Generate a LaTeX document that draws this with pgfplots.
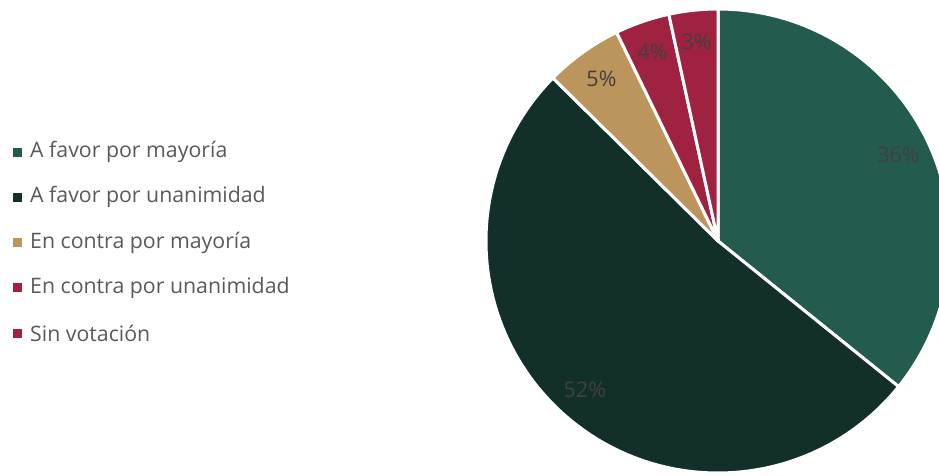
\documentclass[border=0pt]{standalone}
\usepackage{pgfplots}
\usepackage{pgfplotstable}
\pgfplotsset{compat=1.18}
\usepackage{fontspec}
\setmainfont{Open Sans}
\definecolor{cA}{HTML}{235B4E}
\definecolor{cB}{HTML}{122F2A}
\definecolor{cC}{HTML}{BC955C}
\definecolor{cD}{HTML}{9F2241}
\definecolor{cE}{HTML}{9F2241}
\definecolor{lbl}{HTML}{404040}
\definecolor{leg}{HTML}{595959}
\pgfplotstableread[col sep=comma]{
label,value,color
A favor por mayoría,35.8,cA
A favor por unanimidad,51.6,cB
En contra por mayoría,5.4,cC
En contra por unanimidad,3.8,cD
Sin votación,3.4,cE
}\pietable
\begin{document}
\begin{tikzpicture}
\begin{axis}[
  at={(0,0)}, anchor=south west,
  scale only axis, width=939pt, height=475pt,
  xmin=0, xmax=939, ymin=0, ymax=475,
  hide axis, clip=true,
]
\pgfplotstablegetrowsof{\pietable}
\pgfmathtruncatemacro\N{\pgfplotsretval-1}
\def\cum{0}
\pgfplotsforeachungrouped \i in {0,...,\N}{%
  \pgfplotstablegetelem{\i}{value}\of\pietable \let\v\pgfplotsretval
  \pgfplotstablegetelem{\i}{color}\of\pietable \let\c\pgfplotsretval
  \pgfplotstablegetelem{\i}{label}\of\pietable \let\lab\pgfplotsretval
  \pgfmathsetmacro\a{90-3.6*\cum}%
  \pgfmathsetmacro\b{90-3.6*(\cum+\v)}%
  \pgfmathsetmacro\xa{718+232*cos(\a)}%
  \pgfmathsetmacro\ya{234+232*sin(\a)}%
  \pgfmathsetmacro\newcum{\cum+\v}%
  \let\cum\newcum
  \pgfmathsetmacro\ly{323-45.3*\i}%
  \edef\temp{%
    \noexpand\filldraw[fill=\c, draw=white, line width=3pt, line join=round]
      (axis cs:718,234) -- (axis cs:\xa,\ya) arc[start angle=\a, end angle=\b, radius=232pt] -- cycle;
    \noexpand\fill[\c] (axis cs:13,\ly-4.5) rectangle (axis cs:22,\ly+4.5);
  }\temp
  \edef\temp{\noexpand\node[anchor=west, text=leg, font=\noexpand\fontsize{21.3}{24}\noexpand\selectfont, inner sep=0pt] at (axis cs:30,\ly) {\unexpanded\expandafter{\lab}};}\temp
}
\def\cum{0}
\pgfplotsforeachungrouped \i in {0,...,\N}{%
  \pgfplotstablegetelem{\i}{value}\of\pietable \let\v\pgfplotsretval
  \pgfmathsetmacro\m{90-3.6*(\cum+\v/2)}%
  \pgfmathsetmacro\lx{718+200*cos(\m)}%
  \pgfmathsetmacro\lyy{234+200*sin(\m)}%
  \pgfmathtruncatemacro\pct{round(\v)}%
  \pgfmathsetmacro\newcum{\cum+\v}%
  \let\cum\newcum
  \edef\temp{\noexpand\node[text=lbl, font=\noexpand\fontsize{21.5}{24}\noexpand\selectfont, inner sep=0pt] at (axis cs:\lx,\lyy) {\pct\noexpand\%};}\temp
}
\end{axis}
\pgfresetboundingbox
\useasboundingbox (0,0) rectangle (939pt,475pt);
\end{tikzpicture}
\end{document}
